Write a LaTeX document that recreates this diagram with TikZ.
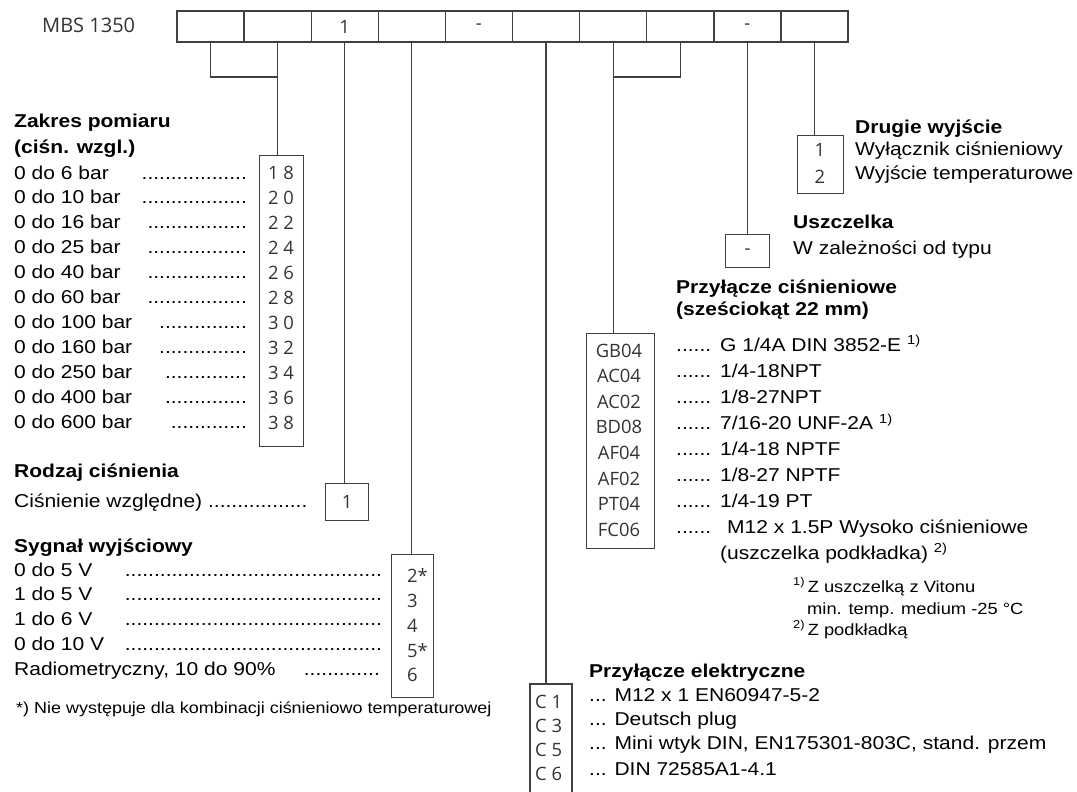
\documentclass[tikz,border=0pt]{standalone}
\usepackage{fontspec}
\setmainfont{Liberation Sans}[FakeStretch=1.13]
\newfontfamily\codefont{Open Sans}
\tikzset{
  frame/.style={draw=black!75,line width=1.4pt},
  code/.style={inner sep=0pt,font=\codefont\fontsize{18.4}{20}\selectfont,text=black!80},
  box/.style={frame,code,anchor=north west},
  cell/.style={frame,code,minimum width=67.1pt,minimum height=31pt},
  lnk/.style={draw=black!75,line width=1.2pt},
  txt/.style={anchor=base west,inner sep=0pt,font=\fontsize{18.6}{22}\selectfont},
  hd/.style={txt,font=\fontsize{18.6}{22}\selectfont\bfseries},
  note/.style={txt,font=\fontsize{16.2}{20}\selectfont},
}
\begin{document}
\begin{tikzpicture}[x=1pt,y=-1pt]
\useasboundingbox (0,0) rectangle (1077,792);
\node[code,anchor=base west,font=\codefont\fontsize{20}{22}\selectfont] (mbs) at (42,33) {MBS 1350};
\foreach \i/\t in {1/,2/,3/1,4/,5/-,6/,7/,8/,9/-,10/}
  \node[cell] (c\i) at ({177+67.1*(\i-.5)},26.5) {\t};
\node[box,minimum width=44pt,minimum height=291pt] (rng) at (259,155) {};
\node[box,minimum width=43pt,minimum height=37pt] (typ) at (325,483) {1};
\node[box,minimum width=42pt,minimum height=143pt] (sig) at (391,554) {};
\node[box,minimum width=68pt,minimum height=215pt] (gb) at (586,333) {};
\node[box,minimum width=44pt,minimum height=33pt] (usz) at (725,234) {-};
\node[box,minimum width=46pt,minimum height=58pt] (drg) at (797,135) {};
\coordinate (el) at (551,684);
\draw[frame] (530,792) |- (572,684) -- (572,792);
\draw[lnk] (c1.south) |- (c2.south |- 0,77);
\draw[lnk] (c2.south) -- (c2.south |- rng.north);
\draw[lnk] (c3.south) -- (c3.south |- typ.north);
\draw[lnk] (c4.south) -- (c4.south |- sig.north);
\draw[lnk] (c6.south) -- (c6.south |- el);
\draw[lnk] (c8.south) |- (c7.south |- 0,77);
\draw[lnk] (c7.south) -- (c7.south |- gb.north);
\draw[lnk] (c9.south) -- (c9.south |- usz.north);
\draw[lnk] (c10.south) -- (c10.south |- drg.north);
\node[hd] (rngh1) at (14,128) {Zakres pomiaru};
\node[hd] (rngh2) at (14,153) {(ciśn. wzgl.)};
\foreach \t/\d [count=\k] in {0 do 6 bar/{..................}, 0 do 10 bar/{..................}, 0 do 16 bar/{.................}, 0 do 25 bar/{.................}, 0 do 40 bar/{.................}, 0 do 60 bar/{.................}, 0 do 100 bar/{...............}, 0 do 160 bar/{...............}, 0 do 250 bar/{..............}, 0 do 400 bar/{..............}, 0 do 600 bar/{.............}}
{
  \node[txt] (rl\k) at (14,{179+24.9*(\k-1)}) {\t};
  \node[txt,anchor=base east] (rd\k) at (247,{179+24.9*(\k-1)}) {\d};
}
\foreach \c [count=\k] in {1 8,2 0,2 2,2 4,2 6,2 8,3 0,3 2,3 4,3 6,3 8}
  \node[code] (r\k) at (281,{173+25*(\k-1)}) {\c};
\node[hd] (typh) at (14,477) {Rodzaj ciśnienia};
\node[txt] (typl) at (14,507) {Ciśnienie względne) .................};
\node[hd] (sigh) at (14,552) {Sygnał wyjściowy};
\foreach \t [count=\k] in {0 do 5 V, 1 do 5 V, 1 do 6 V, 0 do 10 V}
{
  \node[txt] (sl\k) at (14,{576+24.75*(\k-1)}) {\t};
  \node[txt,anchor=base east] (sd\k) at (382,{576+24.75*(\k-1)}) {............................................};
}
\node[txt] (sl5) at (14,675) {Radiometryczny, 10 do 90\%};
\node[txt,anchor=base east] (sd5) at (380,675) {.............};
\foreach \c [count=\k] in {2*,3,4,5*,6}
  \node[code,anchor=west] (s\k) at (407,{576+24.75*(\k-1)}) {\c};
\node[note,font=\fontsize{15.9}{20}\selectfont] (star) at (16,713) {*) Nie występuje dla kombinacji ciśnieniowo temperaturowej};
\node[hd] (drgh) at (855,133) {Drugie wyjście};
\node[txt] (drg1) at (855,155) {Wyłącznik ciśnieniowy};
\node[txt] (drg2) at (855,179) {Wyjście temperaturowe};
\node[code] (d1) at (820,150) {1};
\node[code] (d2) at (820,177) {2};
\node[hd] (uszh) at (793,228) {Uszczelka};
\node[txt] (usz1) at (793,254) {W zależności od typu};
\node[hd] (gbh1) at (676,293) {Przyłącze ciśnieniowe};
\node[hd] (gbh2) at (676,315) {(sześciokąt 22 mm)};
\foreach \c [count=\k] in {GB04,AC04,AC02,BD08,AF04,AF02,PT04,FC06}
{
  \node[code] (g\k) at (619,{350.5+25.6*(\k-1)}) {\c};
  \node[txt] (gd\k) at (676,{351+26.1*(\k-1)}) {......};
}
\node[txt] (gv1) at (720,351) {G 1/4A DIN 3852-E \textsuperscript{1)}};
\node[txt] (gv2) at (720,377.1) {1/4-18NPT};
\node[txt] (gv3) at (720,403.2) {1/8-27NPT};
\node[txt] (gv4) at (720,429.3) {7/16-20 UNF-2A \textsuperscript{1)}};
\node[txt] (gv5) at (720,455.4) {1/4-18 NPTF};
\node[txt] (gv6) at (720,481.5) {1/8-27 NPTF};
\node[txt] (gv7) at (720,507.6) {1/4-19 PT};
\node[txt] (gv8) at (727,533.7) {M12 x 1.5P Wysoko ciśnieniowe};
\node[txt] (gv9) at (720,559) {(uszczelka podkładka) \textsuperscript{2)}};
\node[note] (fn1) at (793,592) {\textsuperscript{1)}\,Z uszczelką z Vitonu};
\node[note] (fn2) at (807,614) {min. temp. medium -25 °C};
\node[note] (fn3) at (793,635) {\textsuperscript{2)}\,Z podkładką};
\node[hd] (elh) at (589,677) {Przyłącze elektryczne};
\foreach \c [count=\k] in {C 1,C 3,C 5,C 6}
  \node[code,anchor=west] (e\k) at (535,{702+24*(\k-1)}) {\c};
\node[txt] (el1) at (589,701) {... M12 x 1 EN60947-5-2};
\node[txt] (el2) at (589,725) {... Deutsch plug};
\node[txt] (el3) at (589,749.5) {... Mini wtyk DIN, EN175301-803C, stand. przem};
\node[txt] (el4) at (589,775) {... DIN 72585A1-4.1};
\end{tikzpicture}
\end{document}
